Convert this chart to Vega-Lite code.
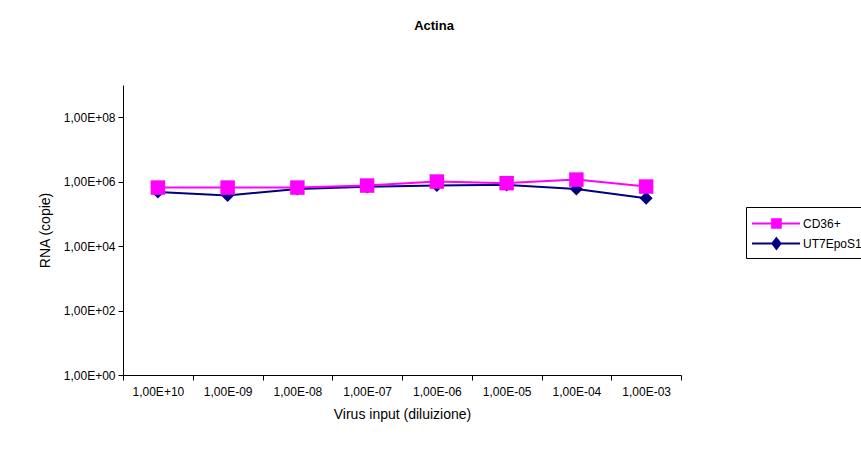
{
  "$schema": "https://vega.github.io/schema/vega-lite/v6.json",
  "width": 558,
  "height": 290,
  "autosize": {"type": "none"},
  "padding": {"left": 123, "top": 85, "right": 180, "bottom": 84},
  "background": "white",
  "config": {
    "view": {"stroke": null},
    "font": "Liberation Sans",
    "axis": {
      "domainColor": "black",
      "tickColor": "black",
      "labelColor": "black",
      "titleColor": "black",
      "grid": false,
      "labelFont": "Liberation Sans",
      "titleFont": "Liberation Sans",
      "titleFontWeight": "normal",
      "domainWidth": 1,
      "tickWidth": 1
    }
  },
  "title": {
    "text": "Actina",
    "fontSize": 13,
    "fontWeight": "bold",
    "font": "Liberation Sans",
    "color": "black",
    "anchor": "middle",
    "dx": 32,
    "offset": 52
  },
  "data": {
    "values": [
      {"dilution": "1,00E+10", "series": "CD36+", "rna": 656000},
      {"dilution": "1,00E-09", "series": "CD36+", "rna": 656000},
      {"dilution": "1,00E-08", "series": "CD36+", "rna": 656000},
      {"dilution": "1,00E-07", "series": "CD36+", "rna": 757000},
      {"dilution": "1,00E-06", "series": "CD36+", "rna": 1007000},
      {"dilution": "1,00E-05", "series": "CD36+", "rna": 898000},
      {"dilution": "1,00E-04", "series": "CD36+", "rna": 1160000},
      {"dilution": "1,00E-03", "series": "CD36+", "rna": 705000},
      {"dilution": "1,00E+10", "series": "UT7EpoS1", "rna": 480000},
      {"dilution": "1,00E-09", "series": "UT7EpoS1", "rna": 370000},
      {"dilution": "1,00E-08", "series": "UT7EpoS1", "rna": 597000},
      {"dilution": "1,00E-07", "series": "UT7EpoS1", "rna": 690000},
      {"dilution": "1,00E-06", "series": "UT7EpoS1", "rna": 757000},
      {"dilution": "1,00E-05", "series": "UT7EpoS1", "rna": 796000},
      {"dilution": "1,00E-04", "series": "UT7EpoS1", "rna": 597000},
      {"dilution": "1,00E-03", "series": "UT7EpoS1", "rna": 307000}
    ]
  },
  "encoding": {
    "x": {
      "field": "dilution",
      "type": "nominal",
      "sort": null,
      "bandPosition": 0.5,
      "scale": {"type": "band", "paddingInner": 0, "paddingOuter": 0},
      "axis": {
        "title": "Virus input (diluizione)",
        "labelAngle": 0,
        "tickBand": "extent",
        "tickSize": 5,
        "labelFontSize": 12,
        "titleFontSize": 14,
        "labelPadding": 6,
        "titlePadding": 10
      }
    },
    "y": {
      "field": "rna",
      "type": "quantitative",
      "scale": {"type": "log", "domain": [1, 1000000000], "nice": false},
      "axis": {
        "title": "RNA (copie)",
        "values": [1, 100, 10000, 1000000, 100000000],
        "labelExpr": "'1,00E+' + (round(log(datum.value)/LN10) < 10 ? '0' : '') + round(log(datum.value)/LN10)",
        "tickSize": 5,
        "labelPadding": 3,
        "labelFontSize": 12,
        "titleFontSize": 14,
        "titlePadding": 11
      }
    },
    "color": {
      "field": "series",
      "type": "nominal",
      "scale": {"domain": ["CD36+", "UT7EpoS1"], "range": ["#FF00FF", "#000080"]},
      "legend": {
        "title": null,
        "orient": "none",
        "legendX": 623,
        "legendY": 122,
        "strokeColor": "black",
        "fillColor": "white",
        "padding": 5,
        "labelFontSize": 12,
        "labelFont": "Liberation Sans",
        "labelColor": "black",
        "symbolSize": 441,
        "symbolStrokeWidth": 2,
        "rowPadding": 0,
        "labelOffset": 29,
        "encode": {
          "symbols": {
            "update": {
              "shape": {"signal": "datum.value === 'CD36+' ? 'M-1,0H3.57M0.92,-0.41H1.74V0.41H0.92Z' : 'M-1,0H3.57M1.33,-0.5L1.72,0L1.33,0.5L0.94,0Z'"},
              "fill": {"scale": "color", "field": "value"},
              "stroke": {"scale": "color", "field": "value"},
              "strokeWidth": {"value": 2},
              "opacity": {"value": 1}
            }
          }
        }
      }
    }
  },
  "layer": [
    {
      "transform": [{"filter": "datum.series === 'UT7EpoS1'"}],
      "mark": {"type": "line", "strokeWidth": 2}
    },
    {
      "transform": [{"filter": "datum.series === 'UT7EpoS1'"}],
      "mark": {"type": "point", "shape": "diamond", "filled": true, "size": 170, "opacity": 1}
    },
    {
      "transform": [{"filter": "datum.series === 'CD36+'"}],
      "mark": {"type": "line", "strokeWidth": 2}
    },
    {
      "transform": [{"filter": "datum.series === 'CD36+'"}],
      "mark": {"type": "point", "shape": "square", "filled": true, "size": 210, "opacity": 1}
    }
  ]
}
